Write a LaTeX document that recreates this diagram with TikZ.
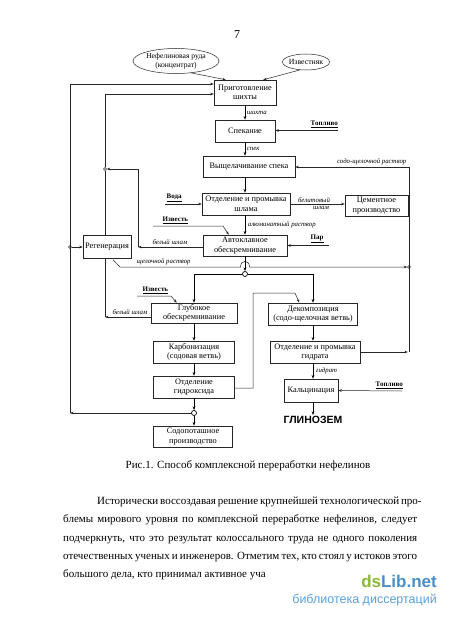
\documentclass[tikz,border=0pt]{standalone}
\usepackage{fontspec}
\setmainfont{Liberation Serif}
\newfontfamily\sansf{Liberation Sans}
\usetikzlibrary{arrows.meta,shapes.geometric,calc}
\definecolor{dsgreen}{HTML}{8CB63C}
\definecolor{dsblue}{HTML}{4A8FC9}
\definecolor{dsblueb}{HTML}{5DA0D8}
\begin{document}
\begin{tikzpicture}[x=1pt,y=-1pt,
 box/.style={draw=black!85, line width=0.5pt, fill=white, inner sep=1pt, align=center, font=\fontsize{8.3}{9.5}\selectfont},
 arr/.style={-{Stealth[length=3.5pt,width=2.6pt]}, line width=0.5pt, draw=black!85},
 marr/.style={-{Stealth[length=3.8pt,width=2.8pt]}, line width=0.75pt, draw=black},
 ln/.style={line width=0.5pt, draw=black!85},
 lab/.style={font=\fontsize{6.8}{7.5}\selectfont\itshape, inner sep=0.5pt},
 inp/.style={font=\fontsize{7}{7.5}\selectfont\bfseries, inner sep=0.5pt},
 jn/.style={circle, draw=black!85, line width=0.5pt, fill=white, inner sep=0pt, minimum size=3pt},
 jd/.style={circle, draw=black, line width=0.7pt, fill=white, inner sep=0pt, minimum size=5pt, path picture={\fill (path picture bounding box.center) circle (0.8pt);}},
]
\useasboundingbox (0,0) rectangle (450,618);
\fill[white] (0,0) rectangle (450,618);

% page number
\node[font=\fontsize{12}{14}\selectfont] (pg) at (237,35) {7};

% inputs
\node[ellipse, draw=black!85, line width=0.5pt, minimum width=86pt, minimum height=25pt, inner xsep=-5pt, inner ysep=-1pt, align=center, font=\fontsize{7.6}{8.5}\selectfont] (ore) at (176,61) {Нефелиновая руда\\(концентрат)};
\node[ellipse, draw=black!85, line width=0.5pt, minimum width=47pt, minimum height=16pt, inner xsep=-2.5pt, inner ysep=0pt, font=\fontsize{7.8}{9}\selectfont] (izv) at (306,62) {Известняк};

% boxes
\node[box, minimum width=62pt, minimum height=25pt] (prig) at (245,92.5) {Приготовление\\шихты};
\node[box, minimum width=60pt, minimum height=22pt] (spek) at (245,131) {Спекание};
\node[box, minimum width=92pt, minimum height=21pt] (vysh) at (249,166.5) {Выщелачивание спека};
\node[box, minimum width=88pt, minimum height=22pt] (otsh) at (246,204) {Отделение и промывка\\шлама};
\node[box, minimum width=63pt, minimum height=21pt] (cem) at (376.5,205.5) {Цементное\\производство};
\node[box, minimum width=84pt, minimum height=21pt] (avto) at (245,245.5) {Автоклавное\\обескремнивание};
\node[box, minimum width=48pt, minimum height=23pt] (regen) at (107,246.5) {Регенерация};
\node[box, minimum width=86pt, minimum height=20pt] (glub) at (194,313) {Глубокое\\обескремнивание};
\node[box, minimum width=89pt, minimum height=22pt] (dekomp) at (313,314) {Декомпозиция\\(содо-щелочная ветвь)};
\node[box, minimum width=81pt, minimum height=22pt] (karb) at (194,352) {Карбонизация\\(содовая ветвь)};
\node[box, minimum width=90pt, minimum height=22pt] (otgidr) at (315,352) {Отделение и промывка\\гидрата};
\node[box, minimum width=81pt, minimum height=22pt] (otgox) at (194,387) {Отделение\\гидроксида};
\node[box, minimum width=54pt, minimum height=23pt] (kalc) at (311,390.5) {Кальцинация};
\node[box, minimum width=79pt, minimum height=21pt] (sodo) at (193,436.5) {Содопоташное\\производство};
\node[font=\sansf\bfseries\fontsize{10.5}{11}\selectfont, inner sep=1pt] (glin) at (313,420) {ГЛИНОЗЕМ};

% input labels
\node[inp, anchor=south west] (top1) at (310,128.5) {\underline{Топливо}};
\node[inp, anchor=south west] (voda) at (166,202.5) {\underline{Вода}};
\node[inp, anchor=south west] (izv1) at (162,224.5) {\underline{Известь}};
\node[inp, anchor=south west] (par) at (310,243.5) {\underline{Пар}};
\node[inp, anchor=south west] (izv2) at (142,294.5) {\underline{Известь}};
\node[inp, anchor=south west] (top2) at (375,389) {\underline{Топливо}};

% junctions and corners
\node[jn] (J1) at (105,169) {};
\node[jn] (J2) at (70,247) {};
\node[jn] (J4) at (409,267) {};
\node[jd] (J5) at (245,274) {};
\node[jd] (J3) at (194,413) {};
\coordinate (R1) at (409,167);
\coordinate (R2) at (409,352);
\coordinate (C1) at (70,413);
\coordinate (C2) at (138,247);
\coordinate (C3) at (105,317);
\coordinate (T1) at (338,130.5);
\coordinate (T2) at (402,391);
\coordinate (W1) at (165,204);
\coordinate (P1) at (329,245.5);
\coordinate (I1) at (153,226);
\coordinate (I1b) at (223,226);
\coordinate (I2) at (137,296);
\coordinate (I2b) at (171,296);
\coordinate (G1) at (253,388);
\coordinate (G2) at (253,293);
\coordinate (G3) at (295,293);

% feed arrows
\draw[arr] (ore.-38) -- ($(prig.north west)+(12,0)$);
\draw[arr] (izv.232) -- ($(prig.north east)+(-13,0)$);

% main column
\draw[marr] (prig.south) -- (prig.south |- spek.north) node[lab, midway, right, xshift=1pt] {шихта};
\draw[arr] (T1) -- (T1 -| spek.east);
\draw[marr] (spek.south) -- (spek.south |- vysh.north) node[lab, midway, right, xshift=1pt] {спек};
\draw[marr] (spek.south |- vysh.south) -- (spek.south |- otsh.north);
\draw[arr] (W1) -- (otsh.west);
\draw[arr] (otsh.east) -- (cem.west |- otsh.east);
\node[lab, anchor=south] at (314,203) {белитовый};
\node[lab, anchor=north] at (321,205.5) {шлам};
\draw[marr] (spek.south |- otsh.south) -- (spek.south |- avto.north) node[lab, midway, right, xshift=2pt] {алюминатный раствор};
\draw[arr] (I1) -- (I1b) -- ($(avto.north west)+(26,0)$);
\draw[arr] (P1) -- (avto.east);

% right loop
\draw[ln] (R2) -- (R1);
\draw[arr] (R1) -- (R1 -| vysh.east);
\node[lab, anchor=south east] at (407,165.5) {содо-щелочной раствор};
\draw[arr] (otgidr.east) -- ($(R2)+(-1.2,0)$);

% left loops
\draw[arr] (avto.west |- C2) -- (C2);
\node[lab, anchor=south] at (170,245.5) {белый шлам};
\draw[arr] (C2) |- (J1.east);
\draw[ln] (J1) -- (J1 |- regen.north);
\draw[arr] (J1) |- ($(prig.west)+(0,1.5)$);
\draw[arr] (J3) -- (C1);
\draw[arr] (C1) |- ($(prig.west)+(0,-8.5)$);
\draw[arr] (J2) -- (regen.west |- J2);
\draw[ln] (C3 |- regen.south) -- (C3);
\draw[arr] (glub.west |- C3) -- (C3);
\node[lab, anchor=south] at (130,315) {белый шлам};

% alkaline solution with bridge
\draw[arr] ($(regen.south)+(6,1.5)$) -- (120,267) -- (240.5,267) .. controls (240.5,259.5) and (249.5,259.5) .. (249.5,267) -- (J4.west);
\node[lab, anchor=south west] at (136,265.5) {щелочной раствор};

% split
\draw[marr] (avto.south) -- (J5);
\draw[marr] (J5) -| (glub.north);
\draw[marr] (J5) -| (dekomp.north);
\draw[arr] (I2) -- (I2b) -- ($(glub.north west)+(26,0)$);

% left branch
\draw[marr] (glub.south) -- (glub.south |- karb.north);
\draw[marr] (karb.south) -- (karb.south |- otgox.north);
\draw[marr] (otgox.south) -- (J3);
\draw[marr] (J3) -- (J3 |- sodo.north);
\draw[arr] (otgox.east |- G1) -- (G1) -- (G2) -- (G3) -- ($(dekomp.north west)+(31,0)$);

% right branch
\draw[marr] (dekomp.south) -- (dekomp.south |- otgidr.north);
\draw[marr] (dekomp.south |- otgidr.south) -- (dekomp.south |- kalc.north) node[lab, midway, right, xshift=2pt] {гидрат};
\draw[arr] (T2) -- (kalc.east);
\draw[marr] (dekomp.south |- kalc.south) -- (dekomp.south |- glin.north);

% caption and body text
\node[font=\fontsize{11}{13}\selectfont] (cap) at (248,466) {Рис.1. Способ комплексной переработки нефелинов};
\node[anchor=base west, inner sep=0pt, font=\fontsize{11}{13}\selectfont] (b1) at (97,504) {\makebox[320pt][s]{Исторически воссоздавая решение крупнейшей технологической про-}};
\node[anchor=base west, inner sep=0pt, font=\fontsize{11}{13}\selectfont] (b2) at (63,522) {\makebox[354pt][s]{блемы мирового уровня по комплексной переработке нефелинов, следует}};
\node[anchor=base west, inner sep=0pt, font=\fontsize{11}{13}\selectfont] (b3) at (63,541) {\makebox[354pt][s]{подчеркнуть, что это результат колоссального труда не одного поколения}};
\node[anchor=base west, inner sep=0pt, font=\fontsize{11}{13}\selectfont] (b4) at (63,559) {\makebox[354pt][s]{отечественных ученых и инженеров. Отметим тех, кто стоял у истоков этого}};
\node[anchor=base west, inner sep=0pt, font=\fontsize{11}{13}\selectfont] (b5) at (63,577) {большого дела, кто принимал активное уча};

% watermark
\node[anchor=base east, inner sep=0pt, font=\sansf\bfseries\fontsize{17}{18}\selectfont] (wm1) at (437,587) {\textcolor{dsgreen}{ds}\textcolor{dsblue}{Lib.net}};
\node[anchor=base east, inner sep=0pt, font=\sansf\fontsize{12.5}{14}\selectfont, text=dsblueb] (wm2) at (437,603) {библиотека диссертаций};
\end{tikzpicture}
\end{document}
